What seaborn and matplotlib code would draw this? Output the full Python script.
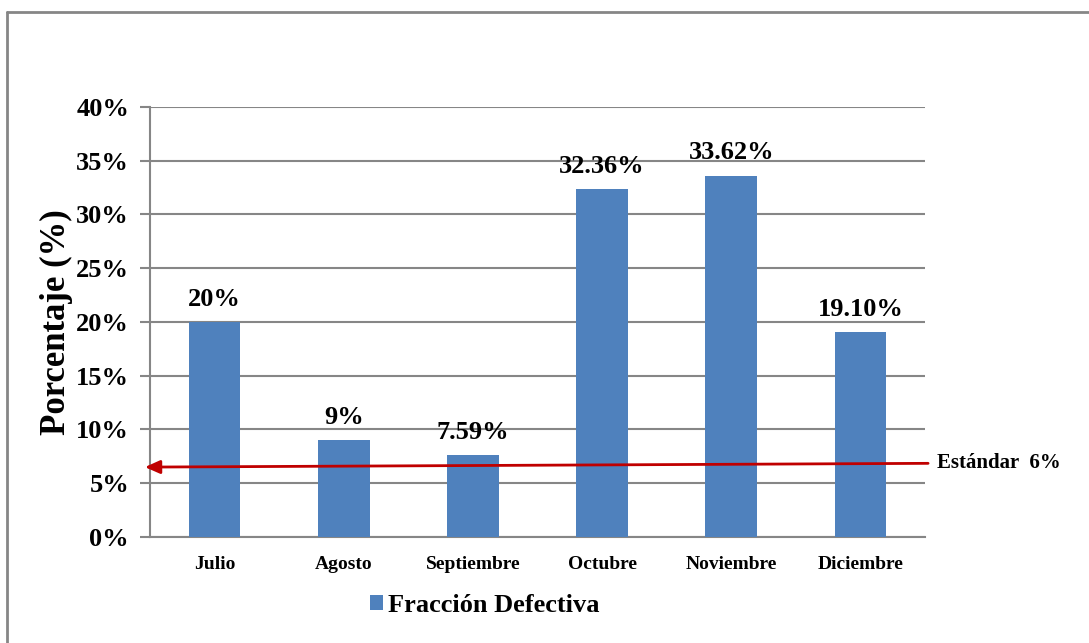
import matplotlib
matplotlib.use("Agg")
import matplotlib.pyplot as plt
import matplotlib.transforms as mtransforms
from matplotlib.patches import Patch
from matplotlib.lines import Line2D
import seaborn as sns
import pandas as pd

# Monthly defective fraction (%)
months = ["Julio", "Agosto", "Septiembre", "Octubre", "Noviembre", "Diciembre"]
fraccion = [20, 9, 7.59, 32.36, 33.62, 19.10]
decimals = [0, 0, 2, 2, 2, 2]
yticks = [0, 5, 10, 15, 20, 25, 30, 35, 40]
series_name = "Fracción Defectiva"
standard_label = "Estándar  6%"
# drawn reference arrow ends (value at left tip, value at right end)
standard_left, standard_right = 6.5, 6.85

BAR = "#4F81BD"
GRID = "#868686"
RED = "#C00000"

sns.set_style("white")
plt.rcParams["font.family"] = ["Liberation Serif", "DejaVu Serif"]
plt.rcParams["font.weight"] = "bold"
plt.rcParams["text.color"] = "black"
plt.rcParams["axes.labelcolor"] = "black"
plt.rcParams["xtick.labelcolor"] = "black"
plt.rcParams["ytick.labelcolor"] = "black"

df = pd.DataFrame({"mes": months, "pct": fraccion})

fig = plt.figure(figsize=(10.89, 6.43), dpi=100)
ax = fig.add_axes([0.1377, 0.1649, 0.8494 - 0.1377, 0.8336 - 0.1649])

sns.barplot(data=df, x="mes", y="pct", order=months, color=BAR,
            saturation=1, width=0.4, linewidth=0, ax=ax, zorder=3)

ax.set_xlim(-0.5, len(months) - 0.5)
ax.set_ylim(0, 40)
ax.set_yticks(yticks)
ax.set_yticklabels([f"{t}%" for t in yticks], fontsize=19, fontweight="bold")
ax.yaxis.grid(True, color=GRID, linewidth=1.5, zorder=0)
ax.set_axisbelow(True)

# category labels centred, tick marks on category boundaries
ax.set_xticks(range(len(months)))
ax.set_xticklabels(months, fontsize=14, fontweight="bold")
ax.set_xticks([i - 0.5 for i in range(len(months) + 1)], minor=True)
ax.tick_params(axis="x", which="major", length=0, pad=14)
ax.tick_params(axis="x", which="minor", length=7, width=1.5, color=GRID, direction="out")
ax.tick_params(axis="y", which="major", length=7, width=1.5, color=GRID, direction="out",
               left=True, pad=8)

for side in ["top", "right"]:
    ax.spines[side].set_visible(False)
for side in ["left", "bottom"]:
    ax.spines[side].set_color(GRID)
    ax.spines[side].set_linewidth(1.5)

ax.set_xlabel("")
ax.set_ylabel("Porcentaje (%)", fontsize=25, fontweight="bold", labelpad=2)

# value labels above the bars
for i, (v, d) in enumerate(zip(fraccion, decimals)):
    ax.annotate(f"{v:.{d}f}%", xy=(i, v), xytext=(0, 8), textcoords="offset points",
                ha="center", va="bottom", fontsize=19, fontweight="bold")

# standard reference arrow
blend = mtransforms.blended_transform_factory(ax.transAxes, ax.transData)
ax.annotate("", xy=(-0.0065, standard_left), xycoords=blend,
            xytext=(1.004, standard_right), textcoords=blend,
            arrowprops=dict(arrowstyle="-|>,head_length=0.9,head_width=0.4",
                            color=RED, lw=2, shrinkA=0, shrinkB=0),
            annotation_clip=False, zorder=5)
ax.text(1.0155, standard_right, standard_label, transform=blend, ha="left", va="center",
        fontsize=15, fontweight="bold")

# legend
handle = Patch(facecolor=BAR, edgecolor="none")
fig.legend([handle], [series_name], loc="center", bbox_to_anchor=(0.445, 0.059),
           frameon=False, handlelength=0.5, handleheight=0.5,
           handletextpad=0.2, prop={"weight": "bold", "size": 19})

# outer frame lines
fig.add_artist(Line2D([6.5 / 1089, 6.5 / 1089], [0, 1 - 11.5 / 643], transform=fig.transFigure,
                      color=GRID, linewidth=2))
fig.add_artist(Line2D([6.5 / 1089, 1], [1 - 11.5 / 643, 1 - 11.5 / 643], transform=fig.transFigure,
                      color=GRID, linewidth=2))

fig.savefig("out.png", dpi=100)
